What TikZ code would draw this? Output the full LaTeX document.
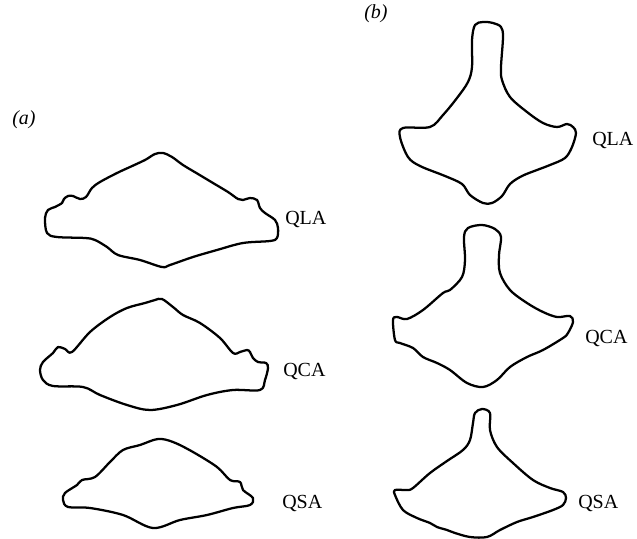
\documentclass[tikz,border=0pt]{standalone}
\usepackage{fontspec}
\setmainfont{Liberation Serif}
\usepackage{tikz}

\begin{document}
\begin{tikzpicture}[
    x=0.75pt, y=-0.75pt,
    outline/.style={line width=1.7pt, line join=round},
    tag/.style={anchor=base west, inner sep=0pt, font=\fontsize{15}{18}\selectfont},
    panel/.style={tag, font=\fontsize{15}{18}\selectfont\itshape}
]
    \useasboundingbox (0,0) rectangle (637,539);

    % panel (a): wide cross-sections
    \draw[outline] plot[smooth cycle, tension=0.55] coordinates {
        (163,153) (172,157) (183,165) (198,174) (213,183) (228,192) (238,199)
        (243,200) (250,198) (257,200) (260,208) (265,213) (275,220) (278,228)
        (277,238) (270,241) (243,243) (217,250) (193,257) (170,265) (162,267)
        (140,260) (118,255) (107,247) (95,240) (85,238) (57,237) (47,233)
        (45,218) (48,210) (55,207) (62,203) (64,199) (68,196) (73,196)
        (80,199) (86,197) (92,188) (100,182) (117,173) (130,167) (145,160) (155,154)};
    \draw[outline] plot[smooth cycle, tension=0.55] coordinates {
        (162,299) (173,307) (183,315) (200,323) (220,338) (233,353) (240,352)
        (247,350) (250,352) (253,358) (258,362) (266,363) (268,368) (265,380)
        (260,390) (233,390) (207,395) (177,405) (150,410) (127,405) (100,395)
        (83,387) (53,386) (43,380) (40,370) (43,362) (53,353) (58,347)
        (65,349) (72,352) (90,332) (110,317) (127,308) (145,303) (155,300)};
    \draw[outline] plot[smooth cycle, tension=0.55] coordinates {
        (158,439) (173,442) (193,452) (217,467) (230,480) (240,482) (243,490)
        (253,498) (250,505) (233,508) (207,515) (180,520) (153,528) (123,515)
        (90,508) (68,507) (63,500) (65,493) (77,485) (82,480) (95,477)
        (110,462) (123,450) (140,445)};

    % panel (b): cross-sections with a stem
    \draw[outline] plot[smooth cycle, tension=0.55] coordinates {
        (483,22) (493,23) (501,27) (503,37) (501,67) (502,80) (510,97)
        (527,112) (543,123) (557,127) (567,124) (573,127) (576,133) (572,147)
        (565,158) (550,165) (537,170) (522,176) (510,184) (502,196) (492,203)
        (483,203) (470,195) (462,184) (445,176) (420,166) (408,157) (400,137)
        (403,128) (430,127) (443,115) (457,98) (468,82) (472,67) (472,40) (475,25)};
    \draw[outline] plot[smooth cycle, tension=0.55] coordinates {
        (482,225) (495,229) (501,237) (499,255) (500,273) (510,290) (527,303)
        (543,312) (557,317) (570,316) (573,322) (568,333) (563,338) (543,350)
        (527,357) (510,367) (497,380) (483,387) (467,383) (450,370) (437,363)
        (423,357) (413,348) (400,343) (395,340) (393,320) (397,317) (407,319)
        (423,310) (443,293) (450,290) (462,277) (465,260) (464,237) (468,228)};
    \draw[outline] plot[smooth cycle, tension=0.55] coordinates {
        (482,409) (490,413) (490,430) (497,447) (513,463) (533,480) (550,488)
        (563,492) (566,498) (563,505) (553,510) (533,517) (517,522) (500,530)
        (487,537) (470,537) (455,533) (447,530) (437,527) (430,523) (417,518)
        (403,510) (395,495) (395,490) (407,490) (413,488) (430,473) (447,461)
        (463,450) (470,440) (473,423) (475,413)};

    % labels
    \node[panel] (capa) at (12,124) {(a)};
    \node[panel] (capb) at (364,18) {(b)};
    \node[tag] (qlaA) at (285,224) {QLA};
    \node[tag] (qcaA) at (283,376) {QCA};
    \node[tag] (qsaA) at (282,508) {QSA};
    \node[tag] (qlaB) at (592,146) {QLA};
    \node[tag] (qcaB) at (585,343) {QCA};
    \node[tag] (qsaB) at (578,508) {QSA};
\end{tikzpicture}
\end{document}
